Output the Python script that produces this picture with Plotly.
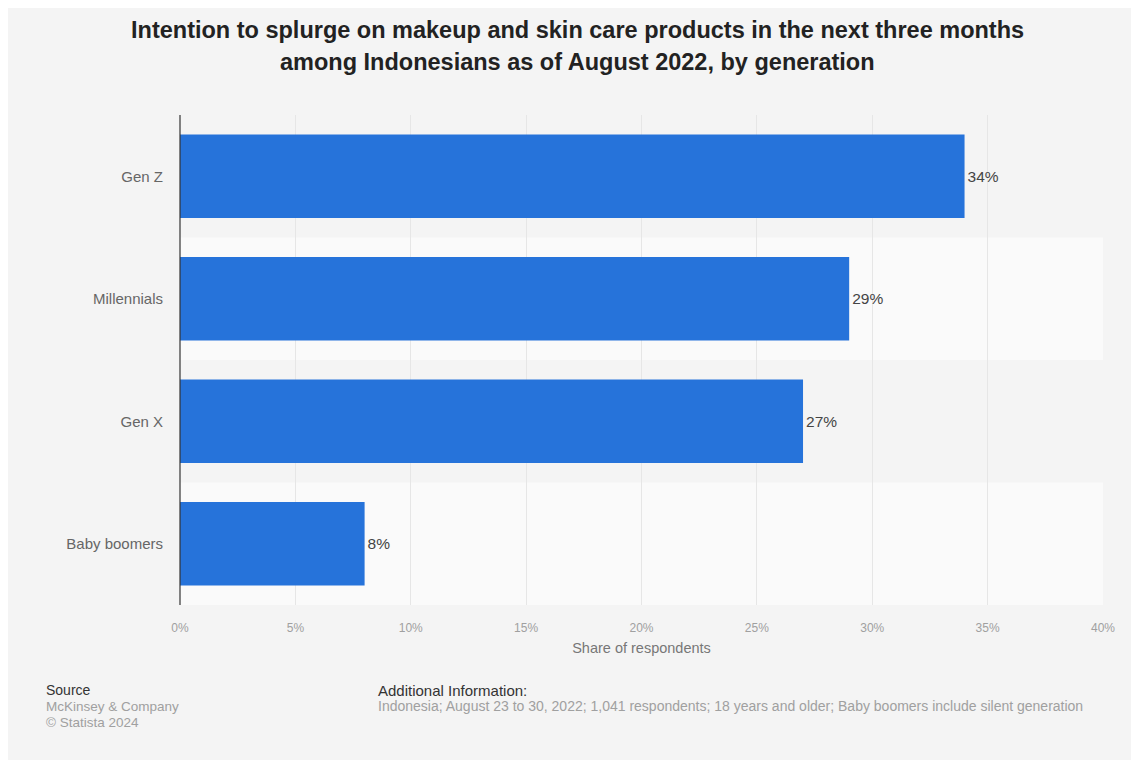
import plotly.graph_objects as go

categories = ["Gen Z", "Millennials", "Gen X", "Baby boomers"]
values = [34, 29, 27, 8]
value_labels = ["34%", "29%", "27%", "8%"]
x_tick_vals = [0, 5, 10, 15, 20, 25, 30, 35, 40]
x_tick_text = ["0%", "5%", "10%", "15%", "20%", "25%", "30%", "35%", "40%"]

title_lines = [
    "Intention to splurge on makeup and skin care products in the next three months",
    "among Indonesians as of August 2022, by generation",
]
source_lines = ["McKinsey & Company", "© Statista 2024"]
info_text = ("Indonesia; August 23 to 30, 2022; 1,041 respondents; 18 years and older; "
             "Baby boomers include silent generation")

W, H = 1139, 764
OFF = 8  # page body offset
PL, PT, PR, PB = 180, 115, 1103, 605  # plot area in target pixels
ML, MT = PL - OFF, PT - OFF
PW, PH = PR - PL, PB - PT
MR = W - ML - PW
MB = H - MT - PH

def px_x(p):
    return (p - PL) / PW

def px_y(p):
    return 1 - (p - PT) / PH

FONT = "Liberation Sans, Arial, sans-serif"

fig = go.Figure()
fig.add_trace(go.Bar(
    x=values, y=categories, orientation="h",
    marker=dict(color="#2673da", line=dict(width=0)),
    width=0.68,
    text=value_labels, textposition="outside",
    textfont=dict(family=FONT, size=15.5, color="#444444"),
    cliponaxis=False,
    hoverinfo="skip",
))

shapes = []
shapes.append(dict(type="rect", xref="paper", yref="paper",
                   x0=px_x(6), x1=px_x(1135), y0=px_y(760), y1=px_y(7),
                   fillcolor="#f4f4f4", line=dict(width=0), layer="below"))
for i, c in enumerate(categories):
    if i % 2 == 1:
        shapes.append(dict(type="rect", xref="paper", yref="y",
                           x0=0, x1=1, y0=i - 0.5, y1=i + 0.5,
                           fillcolor="#fafafa", line=dict(width=0), layer="below"))
shapes.append(dict(type="line", xref="paper", yref="paper",
                   x0=0, x1=0, y0=0, y1=1,
                   line=dict(color="#333333", width=1.2), layer="above"))

annotations = []
for i, line in enumerate(title_lines):
    annotations.append(dict(
        text="<b>" + line + "</b>", xref="paper", yref="paper",
        x=px_x(577), y=px_y(30 + 32 * i), xanchor="center", yanchor="middle",
        showarrow=False, font=dict(family=FONT, size=23.5, color="#222222")))

annotations.append(dict(text="Source", xref="paper", yref="paper",
                        x=px_x(44), y=px_y(690), xanchor="left", yanchor="middle",
                        showarrow=False, font=dict(family=FONT, size=14, color="#333333")))
for i, s in enumerate(source_lines):
    annotations.append(dict(text=s, xref="paper", yref="paper",
                            x=px_x(44), y=px_y(706 + 16 * i), xanchor="left", yanchor="middle",
                            showarrow=False, font=dict(family=FONT, size=13.5, color="#a0a0a0")))
annotations.append(dict(text="Additional Information:", xref="paper", yref="paper",
                        x=px_x(376), y=px_y(690), xanchor="left", yanchor="middle",
                        showarrow=False, font=dict(family=FONT, size=15, color="#333333")))
annotations.append(dict(text=info_text, xref="paper", yref="paper",
                        x=px_x(376), y=px_y(706), xanchor="left", yanchor="middle",
                        showarrow=False, font=dict(family=FONT, size=14, color="#a0a0a0")))

fig.update_layout(
    width=W, height=H,
    margin=dict(l=ML, r=MR, t=MT, b=MB, pad=0),
    paper_bgcolor="#ffffff",
    plot_bgcolor="rgba(0,0,0,0)",
    showlegend=False,
    shapes=shapes,
    annotations=annotations,
    font=dict(family=FONT),
    xaxis=dict(
        range=[0, 40], tickvals=x_tick_vals, ticktext=x_tick_text,
        showgrid=True, gridcolor="#e6e6e6", gridwidth=1,
        zeroline=False, showline=False,
        tickfont=dict(family=FONT, size=12, color="#a0a0a0"),
        ticks="", ticklabelstandoff=14,
        title=dict(text="Share of respondents", standoff=8,
                   font=dict(family=FONT, size=14.5, color="#777777")),
        fixedrange=True,
    ),
    yaxis=dict(
        categoryorder="array", categoryarray=categories, autorange="reversed",
        showgrid=False, zeroline=False, showline=False,
        tickfont=dict(family=FONT, size=15, color="#666666"),
        ticks="", ticklabelstandoff=16,
        fixedrange=True,
    ),
)

fig.write_html("out.html")
